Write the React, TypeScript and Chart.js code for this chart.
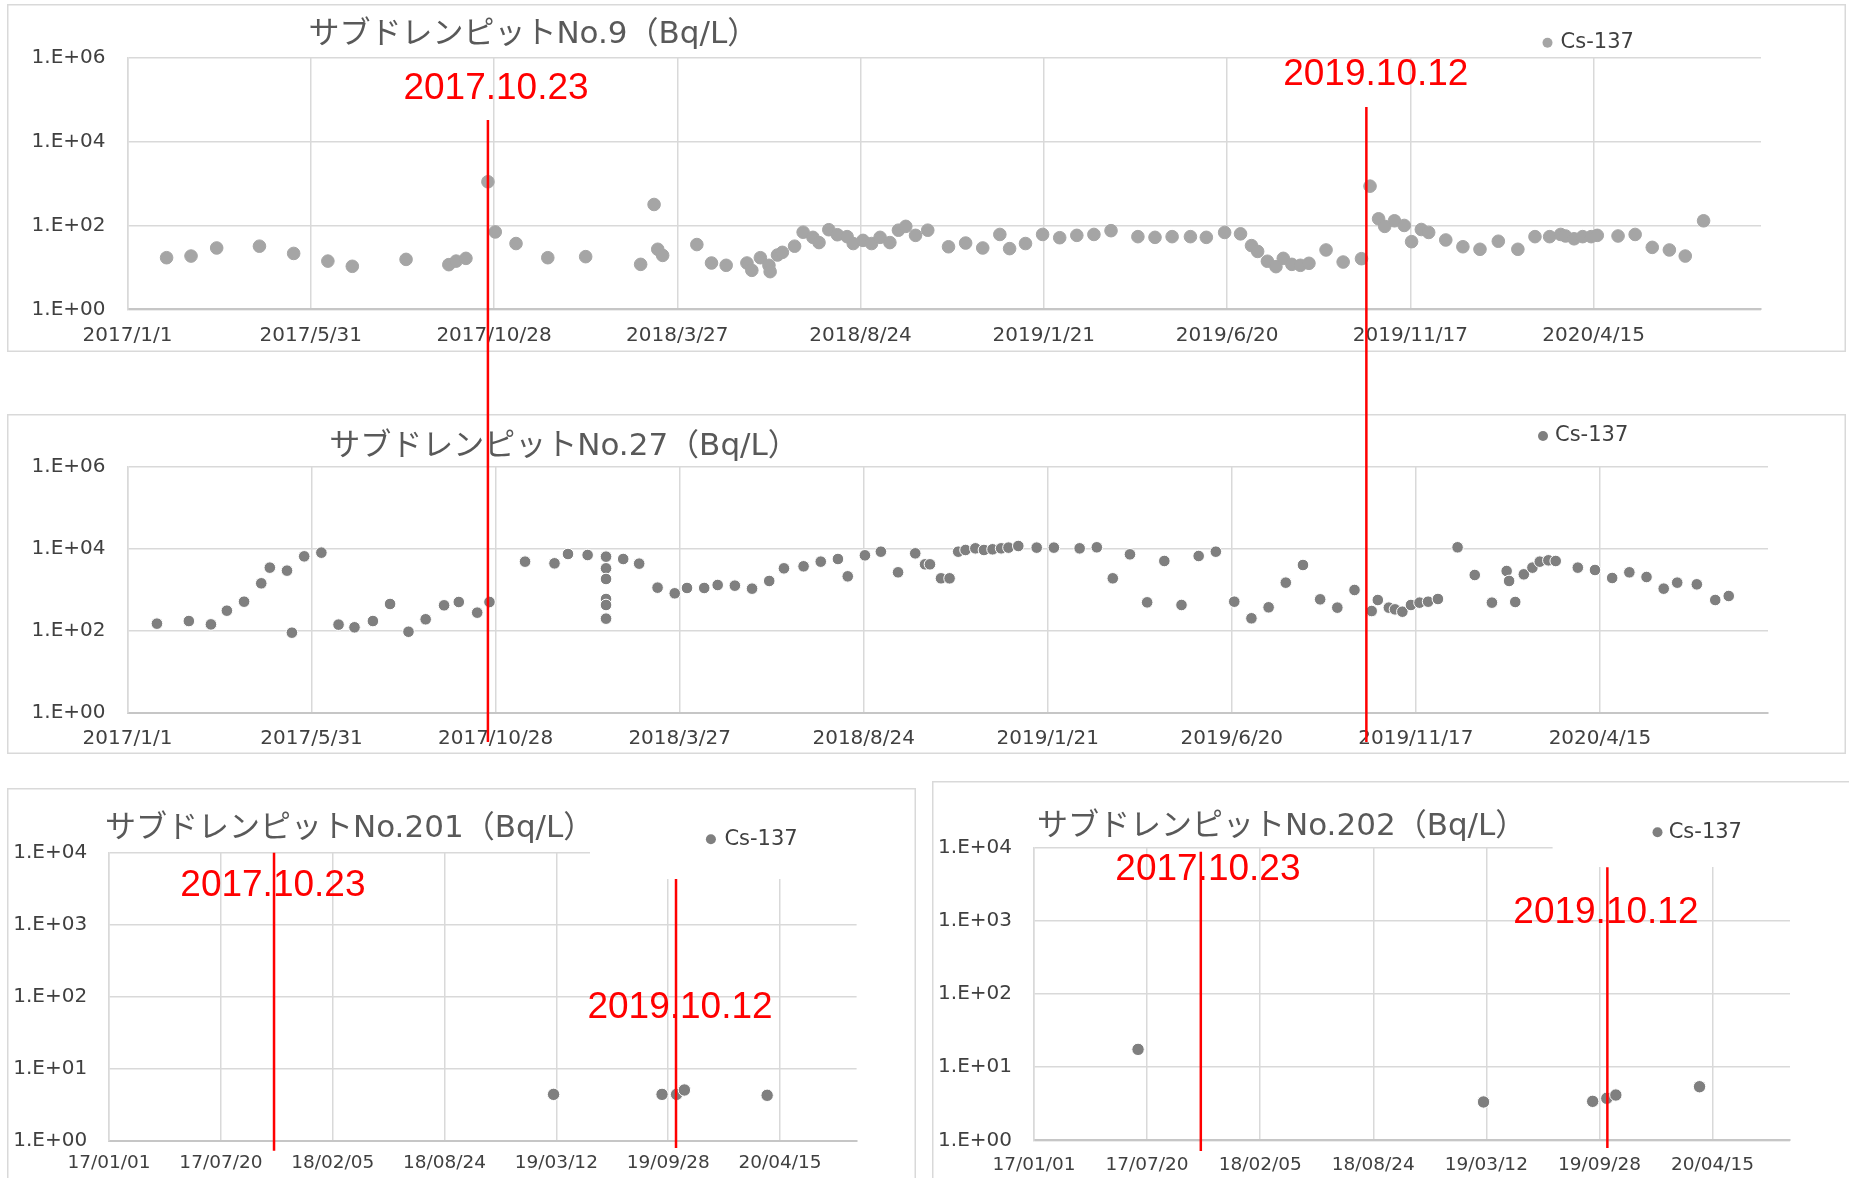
import { useEffect, useRef } from "react";
import { Chart, registerables } from "chart.js";
Chart.register(...registerables);

// x values are days since 2017/1/1
const BASE = Date.UTC(2017, 0, 1);
const DAY = 86400000;
const X_MAX_DAYS = 1337;

const topTickLabels = ["2017/1/1", "2017/5/31", "2017/10/28", "2018/3/27", "2018/8/24", "2019/1/21", "2019/6/20", "2019/11/17", "2020/4/15"];
const bottomTickLabels = ["17/01/01", "17/07/20", "18/02/05", "18/08/24", "19/03/12", "19/09/28", "20/04/15"];
const topYTicks = [1, 1e2, 1e4, 1e6];
const bottomYTicks = [1, 1e1, 1e2, 1e3, 1e4];
const eventLabels = ["2017.10.23", "2019.10.12"];
const seriesName = "Cs-137";

const no9Days = [32, 52, 73, 108, 136, 164, 184, 228, 263, 269, 277, 295, 301, 318, 344, 375, 420, 431, 434, 438, 466, 478, 490, 507, 511, 518, 525, 526, 532, 536, 546, 553, 561, 566, 574, 581, 589, 594, 602, 609, 616, 624, 631, 637, 645, 655,
  672, 686, 700, 714, 722, 735, 749, 763, 777, 791, 805, 827, 841, 855, 870, 883, 898, 911, 920, 925, 933, 940, 946, 953, 960, 967, 981, 995, 1010, 1017, 1024, 1029, 1037, 1045, 1051, 1059, 1065, 1079, 1093, 1107, 1122, 1138, 1152, 1164, 1173, 1177, 1184, 1191, 1198, 1203, 1220, 1234, 1248, 1262, 1275, 1290];
const no9Values = [17, 18.6, 29, 32, 21.5, 14.1, 10.6, 15.5, 11.6, 14.1, 16.4, 1100, 70, 37, 17, 18, 11.8, 316, 27, 19.3, 35, 12.7, 11.2, 12.7, 8.5, 17, 11.2, 7.9, 19.7, 22.8, 32, 69, 52, 39, 79, 60, 54, 37, 44, 37, 52, 39, 77, 95, 58, 77,
  31, 38, 29, 61, 28, 37, 61, 51, 58, 61, 75, 54, 52, 54, 54, 52, 68, 63, 33, 24, 14, 10.4, 16.4, 11.8, 11.2, 12.5, 26, 13.4, 16.1, 864, 144, 95, 129, 100, 41, 80, 68, 45, 31, 27, 42, 27, 54, 54, 61, 56, 48, 54, 54, 58, 56, 61, 30, 26, 18.6, 129];

const no27Days = [24, 50, 68, 81, 95, 109, 116, 130, 134, 144, 158, 172, 185, 200, 214, 229, 243, 258, 270, 285, 295, 324, 348, 359, 375, 390, 390, 390, 390, 390, 390, 404, 417, 432, 446, 456, 470, 481, 495, 509, 523, 535, 551, 565, 579, 587, 601, 614, 628, 642, 650, 654,
  663, 670, 677, 683, 691, 698, 705, 712, 718, 726, 741, 755, 776, 790, 803, 817, 831, 845, 859, 873, 887, 902, 916, 930, 944, 958, 972, 986, 1000, 1014, 1019, 1028, 1033, 1039, 1046, 1053, 1060, 1068, 1084, 1098, 1112, 1124, 1126, 1131, 1138, 1145, 1151, 1158, 1164, 1182, 1196, 1210, 1224, 1238, 1252, 1263, 1279, 1294, 1305];
const no27Values = [151, 175, 145, 313, 519, 1455, 3508, 2965, 91, 6620, 8140, 143, 123, 175, 456, 96, 193, 423, 510, 280, 510, 4910, 4470, 7550, 7140, 6500, 3377, 1855, 603, 431, 200, 5700, 4390, 1140, 830, 1120, 1120, 1325, 1276, 1078, 1660, 3377, 3780, 4910, 5700, 2155, 7010, 8600, 2700, 7840, 4230, 4230,
  1927, 1927, 8600, 9460, 10380, 9460, 9820, 10380, 10800, 11830, 10800, 10800, 10380, 11000, 1927, 7410, 500, 5100, 431, 6750, 8600, 519, 204, 378, 1510, 4070, 592, 371, 1000, 307, 570, 371, 337, 296, 431, 491, 519, 603, 11000, 2322, 491, 2905, 1660, 510, 2410, 3508, 4910, 5290, 5100, 3508, 3075, 1963, 2700, 2075, 1078, 1510, 1375, 570, 714];

const no201Days = [795, 989, 1015, 1029, 1177];
const no201Values = [4.4, 4.4, 4.4, 5.06, 4.27];

const no202Days = [184, 795, 988, 1013, 1029, 1177];
const no202Values = [17.5, 3.34, 3.41, 3.75, 4.16, 5.4];

function parseDate(label: string, sep: string, short: boolean) {
  const [y, m, d] = label.split(sep).map(Number);
  return Math.round((Date.UTC(short ? 2000 + y : y, m - 1, d) - BASE) / DAY);
}
const topTickDays = topTickLabels.map((l) => parseDate(l, "/", false));
const bottomTickDays = bottomTickLabels.map((l) => parseDate(l, "/", true));
const eventDays = eventLabels.map((l) => parseDate(l, ".", false));

const TICK_FONT = "'DejaVu Sans', 'Liberation Sans', sans-serif";
const TITLE_FONT = "'DejaVu Sans', 'Noto Sans CJK JP', sans-serif";
const RED_FONT = "'Liberation Sans', Arial, sans-serif";

type Panel = {
  left: number; top: number; w: number; h: number;
  plot: { left: number; right: number; top: number; bottom: number };
  title: string; titleX: number; titleY: number;
  legend: { dotX: number; dotY: number; textX: number };
  days: number[]; values: number[];
  color: string; radius: number; pBorder: string;
  yTicks: number[]; xTicks: number[]; xLabels: string[]; xFontSize: number; xPad: number;
  red: { x: number; y: number }[];
  lines: { y0: number; y1: number }[] | null;
  cover: { x0: number; x1: number; y0: number; y1: number } | null;
  openBottom: boolean; openRight: boolean;
};

const panels: Panel[] = [
  {
    left: 7, top: 4, w: 1839, h: 348,
    plot: { left: 120.5, right: 1754, top: 53.7, bottom: 305.3 },
    title: "サブドレンピットNo.9（Bq/L）", titleX: 301.4, titleY: 31,
    legend: { dotX: 1540.5, dotY: 38.7, textX: 1553.6 },
    days: no9Days, values: no9Values, color: "#A5A5A5", radius: 6.3, pBorder: "#A5A5A5",
    yTicks: topYTicks, xTicks: topTickDays, xLabels: topTickLabels, xFontSize: 20, xPad: 14.5,
    red: [{ x: 489, y: 84.5 }, { x: 1368.8, y: 71 }], lines: null, cover: null, openBottom: false, openRight: false,
  },
  {
    left: 7, top: 414, w: 1839, h: 340,
    plot: { left: 120.5, right: 1761, top: 53, bottom: 299 },
    title: "サブドレンピットNo.27（Bq/L）", titleX: 322.2, titleY: 32.5,
    legend: { dotX: 1536, dotY: 22, textX: 1548 },
    days: no27Days, values: no27Values, color: "#7F7F7F", radius: 5.8, pBorder: "#FFFFFF",
    yTicks: topYTicks, xTicks: topTickDays, xLabels: topTickLabels, xFontSize: 20, xPad: 13.3,
    red: [], lines: null, cover: null, openBottom: false, openRight: false,
  },
  {
    left: 7, top: 788, w: 909, h: 390,
    plot: { left: 102.1, right: 849.6, top: 64.7, bottom: 352.7 },
    title: "サブドレンピットNo.201（Bq/L）", titleX: 98, titleY: 41,
    legend: { dotX: 703.9, dotY: 51.3, textX: 717.4 },
    days: no201Days, values: no201Values, color: "#7F7F7F", radius: 6.2, pBorder: "#FFFFFF",
    yTicks: bottomYTicks, xTicks: bottomTickDays, xLabels: bottomTickLabels, xFontSize: 18.5, xPad: 11.6,
    red: [{ x: 265.9, y: 97.5 }, { x: 673, y: 219.5 }],
    lines: [{ y0: 64.7, y1: 362.7 }, { y0: 91, y1: 360 }],
    cover: { x0: 583, x1: 880, y0: 58, y1: 91 }, openBottom: true, openRight: false,
  },
  {
    left: 932, top: 781, w: 917, h: 397,
    plot: { left: 102, right: 858, top: 66.7, bottom: 359.3 },
    title: "サブドレンピットNo.202（Bq/L）", titleX: 105, titleY: 45.5,
    legend: { dotX: 725.5, dotY: 51.3, textX: 736.7 },
    days: no202Days, values: no202Values, color: "#7F7F7F", radius: 6.2, pBorder: "#FFFFFF",
    yTicks: bottomYTicks, xTicks: bottomTickDays, xLabels: bottomTickLabels, xFontSize: 18.5, xPad: 13.7,
    red: [{ x: 275.9, y: 89 }, { x: 673.9, y: 131.5 }],
    lines: [{ y0: 70.7, y1: 370 }, { y0: 86.3, y1: 367 }],
    cover: { x0: 620.6, x1: 890, y0: 60, y1: 86 }, openBottom: true, openRight: true,
  },
];

const topLines = [{ y0: 120, y1: 742 }, { y0: 107, y1: 742 }];

function yLabel(v: number) {
  const e = Math.round(Math.log10(v));
  return `1.E+${e < 10 ? "0" : ""}${e}`;
}

function makeChart(canvas: HTMLCanvasElement, p: Panel) {
  const deco = {
    id: "deco",
    beforeDatasetsDraw(chart: any) {
      if (!p.cover) return;
      const ctx = chart.ctx;
      ctx.save();
      ctx.fillStyle = "#FFFFFF";
      ctx.fillRect(p.cover.x0, p.cover.y0, p.cover.x1 - p.cover.x0, p.cover.y1 - p.cover.y0);
      ctx.restore();
    },
    afterDraw(chart: any) {
      const ctx = chart.ctx;
      ctx.save();
      // panel border
      ctx.strokeStyle = "#D9D9D9";
      ctx.lineWidth = 1.5;
      ctx.strokeRect(0.75, 0.75, p.openRight ? p.w + 10 : p.w - 1.5, p.openBottom ? p.h + 10 : p.h - 1.5);
      // title
      ctx.fillStyle = "#595959";
      ctx.font = `31px ${TITLE_FONT}`;
      ctx.textAlign = "left";
      ctx.textBaseline = "middle";
      ctx.fillText(p.title, p.titleX, p.titleY);
      // legend
      ctx.fillStyle = p.color;
      ctx.beginPath();
      ctx.arc(p.legend.dotX, p.legend.dotY, 5, 0, Math.PI * 2);
      ctx.fill();
      ctx.fillStyle = "#404040";
      ctx.font = `21px ${TICK_FONT}`;
      ctx.textAlign = "left";
      ctx.fillText(seriesName, p.legend.textX, p.legend.dotY);
      // event lines
      if (p.lines) {
        ctx.strokeStyle = "#FF0000";
        ctx.lineWidth = 2.5;
        p.lines.forEach((l, i) => {
          const x = chart.scales.x.getPixelForValue(eventDays[i]);
          ctx.beginPath();
          ctx.moveTo(x, l.y0);
          ctx.lineTo(x, l.y1);
          ctx.stroke();
        });
      }
      // event labels
      ctx.fillStyle = "#FF0000";
      ctx.font = `37px ${RED_FONT}`;
      ctx.textAlign = "center";
      p.red.forEach((r, i) => ctx.fillText(eventLabels[i], r.x, r.y));
      ctx.restore();
    },
  };

  return new Chart(canvas, {
    type: "scatter",
    data: {
      datasets: [
        {
          label: seriesName,
          data: p.days.map((d, i) => ({ x: d, y: p.values[i] })),
          backgroundColor: p.color,
          borderColor: p.pBorder,
          borderWidth: 1,
          pointRadius: p.radius,
          showLine: false,
        },
      ],
    },
    options: {
      animation: false,
      responsive: false,
      devicePixelRatio: 1,
      events: [],
      layout: { padding: { left: 0, top: p.plot.top, right: p.w - p.plot.right, bottom: 0 } },
      plugins: { legend: { display: false }, title: { display: false }, tooltip: { enabled: false } },
      scales: {
        x: {
          type: "linear",
          min: 0,
          max: X_MAX_DAYS,
          afterBuildTicks: (s: any) => { s.ticks = p.xTicks.map((v) => ({ value: v })); },
          afterFit: (s: any) => { s.height = p.h - p.plot.bottom; },
          grid: { color: "#D9D9D9", lineWidth: 1.5, drawTicks: false },
          border: { color: "#C6C6C6", width: 2 },
          ticks: {
            autoSkip: false, maxRotation: 0, minRotation: 0, padding: p.xPad,
            color: "#404040", font: { family: TICK_FONT, size: p.xFontSize },
            callback: (_v: any, i: number) => p.xLabels[i],
          },
        },
        y: {
          type: "logarithmic",
          min: p.yTicks[0],
          max: p.yTicks[p.yTicks.length - 1],
          afterBuildTicks: (s: any) => { s.ticks = p.yTicks.map((v) => ({ value: v })); },
          afterFit: (s: any) => { s.width = p.plot.left; },
          grid: { color: "#D9D9D9", lineWidth: 1.5, drawTicks: false },
          border: { color: "#D9D9D9", width: 1.5 },
          ticks: {
            padding: 22, color: "#404040", font: { family: TICK_FONT, size: 20 },
            callback: (v: any) => yLabel(Number(v)),
          },
        },
      },
    },
    plugins: [deco],
  } as any);
}

export default function App() {
  const canvases = useRef<(HTMLCanvasElement | null)[]>([]);
  const overlay = useRef<HTMLCanvasElement | null>(null);

  useEffect(() => {
    const charts = panels.map((p, i) => makeChart(canvases.current[i] as HTMLCanvasElement, p));
    const ov = overlay.current;
    if (ov) {
      const ctx = ov.getContext("2d")!;
      ctx.clearRect(0, 0, ov.width, ov.height);
      ctx.strokeStyle = "#FF0000";
      ctx.lineWidth = 2.5;
      const xs = charts[0].scales.x;
      topLines.forEach((l, i) => {
        const x = xs.getPixelForValue(eventDays[i]) + panels[0].left;
        ctx.beginPath();
        ctx.moveTo(x, l.y0);
        ctx.lineTo(x, l.y1);
        ctx.stroke();
      });
    }
    return () => charts.forEach((c) => c.destroy());
  }, []);

  return (
    <div style={{ position: "absolute", left: 0, top: 0, width: 1849, height: 1178, background: "#FFFFFF", overflow: "hidden" }}>
      {panels.map((p, i) => (
        <canvas
          key={i}
          ref={(el) => { canvases.current[i] = el; }}
          width={p.w}
          height={p.h}
          style={{ position: "absolute", left: p.left, top: p.top, width: p.w, height: p.h }}
        />
      ))}
      <canvas ref={overlay} width={1849} height={1178} style={{ position: "absolute", left: 0, top: 0, width: 1849, height: 1178, pointerEvents: "none" }} />
    </div>
  );
}
